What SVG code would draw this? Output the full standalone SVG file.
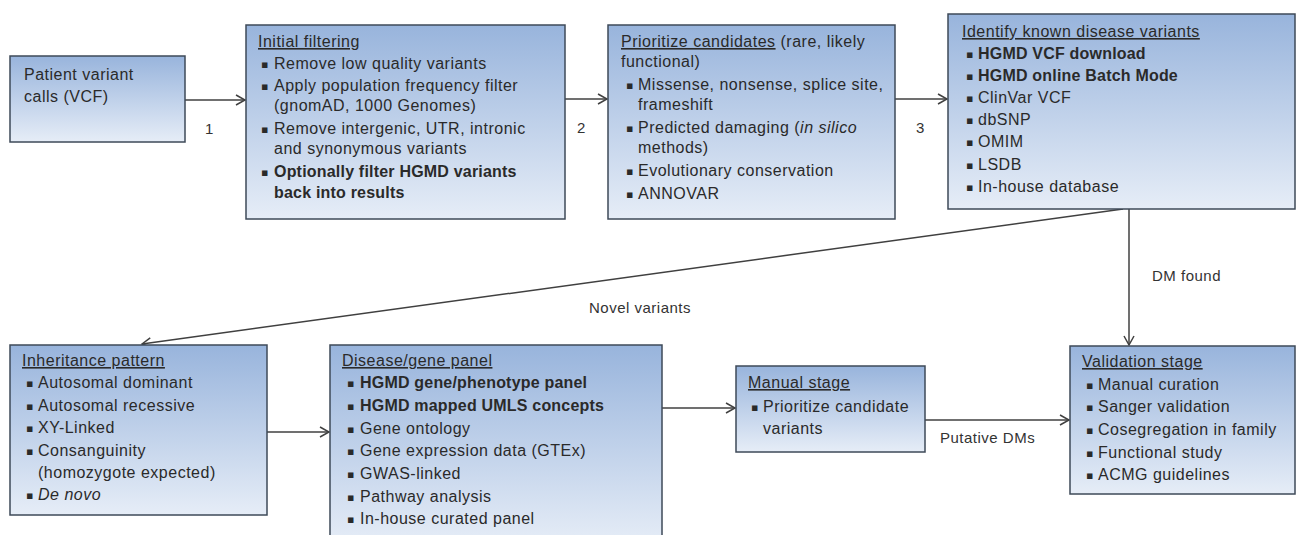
<svg xmlns="http://www.w3.org/2000/svg" width="1299" height="535" viewBox="0 0 1299 535">
<defs>
<linearGradient id="g" x1="0" y1="0" x2="0" y2="1">
<stop offset="0" stop-color="#98b4dc"/>
<stop offset="1" stop-color="#e6edf7"/>
</linearGradient>
<marker id="ah" markerWidth="12" markerHeight="12" refX="10" refY="6" orient="auto" markerUnits="userSpaceOnUse">
<path d="M1,1 L10,6 L1,11" fill="none" stroke="#404040" stroke-width="1.5"/>
</marker>
<style>
.box{fill:url(#g);stroke:#3e4a58;stroke-width:1.5}
.t{font-family:"Liberation Sans",Arial,sans-serif;font-size:16px;letter-spacing:0.5px;fill:#2a2a2a}
.bu{font-family:"DejaVu Sans","Liberation Sans",sans-serif;font-size:11px;fill:#2a2a2a}
.b{font-weight:bold;letter-spacing:0.2px}
.u{text-decoration:underline}
.i{font-style:italic}
.lbl{font-family:"Liberation Sans",Arial,sans-serif;font-size:15px;letter-spacing:0.5px;fill:#333}
.c{fill:none;stroke:#404040;stroke-width:1.5;marker-end:url(#ah)}
</style>
</defs>
<g id="connectors">
<line class="c" x1="185" y1="100" x2="245" y2="100"/>
<line class="c" x1="565" y1="99" x2="607" y2="99"/>
<line class="c" x1="895" y1="99" x2="947" y2="99"/>
<line class="c" x1="1123" y1="209" x2="142" y2="344"/>
<line class="c" x1="1129" y1="209" x2="1129" y2="345"/>
<line class="c" x1="267" y1="432" x2="329" y2="432"/>
<line class="c" x1="662" y1="408" x2="735" y2="408"/>
<line class="c" x1="925" y1="420" x2="1069" y2="420"/>
<text class="lbl" x="205" y="134">1</text>
<text class="lbl" x="577" y="133">2</text>
<text class="lbl" x="916" y="133">3</text>
<text class="lbl" x="589" y="313">Novel variants</text>
<text class="lbl" x="1152" y="281">DM found</text>
<text class="lbl" x="940" y="443">Putative DMs</text>
</g>
<g id="patient">
<rect class="box" x="10" y="56" width="175" height="86"/>
<text class="t" x="24" y="80">Patient variant</text>
<text class="t" x="24" y="102">calls (VCF)</text>
</g>
<g id="initial">
<rect class="box" x="246" y="25" width="319" height="194"/>
<text class="t u" x="258" y="47">Initial filtering</text>
<text class="bu" x="261" y="68">▪</text><text class="t" x="274" y="69">Remove low quality variants</text>
<text class="bu" x="261" y="90">▪</text><text class="t" x="274" y="91">Apply population frequency filter</text>
<text class="t" x="274" y="111">(gnomAD, 1000 Genomes)</text>
<text class="bu" x="261" y="133">▪</text><text class="t" x="274" y="134">Remove intergenic, UTR, intronic</text>
<text class="t" x="274" y="154">and synonymous variants</text>
<text class="bu" x="261" y="176">▪</text><text class="t b" x="274" y="177">Optionally filter HGMD variants</text>
<text class="t b" x="274" y="198">back into results</text>
</g>
<g id="prioritize">
<rect class="box" x="608" y="25" width="287" height="194"/>
<text class="t" x="621" y="47"><tspan class="u">Prioritize candidates</tspan> (rare, likely</text>
<text class="t" x="621" y="67">functional)</text>
<text class="bu" x="626" y="89">▪</text><text class="t" x="638" y="90">Missense, nonsense, splice site,</text>
<text class="t" x="638" y="110">frameshift</text>
<text class="bu" x="626" y="132">▪</text><text class="t" x="638" y="133">Predicted damaging (<tspan class="i">in silico</tspan></text>
<text class="t" x="638" y="153">methods)</text>
<text class="bu" x="626" y="175">▪</text><text class="t" x="638" y="176">Evolutionary conservation</text>
<text class="bu" x="626" y="198">▪</text><text class="t" x="638" y="199">ANNOVAR</text>
</g>
<g id="identify">
<rect class="box" x="948" y="14" width="347" height="195"/>
<text class="t u" x="962" y="37">Identify known disease variants</text>
<text class="bu" x="966" y="58">▪</text><text class="t b" x="978" y="59">HGMD VCF download</text>
<text class="bu" x="966" y="80">▪</text><text class="t b" x="978" y="81">HGMD online Batch Mode</text>
<text class="bu" x="966" y="102">▪</text><text class="t" x="978" y="103">ClinVar VCF</text>
<text class="bu" x="966" y="124">▪</text><text class="t" x="978" y="125">dbSNP</text>
<text class="bu" x="966" y="146">▪</text><text class="t" x="978" y="147">OMIM</text>
<text class="bu" x="966" y="169">▪</text><text class="t" x="978" y="170">LSDB</text>
<text class="bu" x="966" y="191">▪</text><text class="t" x="978" y="192">In-house database</text>
</g>
<g id="inheritance">
<rect class="box" x="10" y="345" width="257" height="170"/>
<text class="t u" x="22" y="366">Inheritance pattern</text>
<text class="bu" x="26" y="387">▪</text><text class="t" x="38" y="388">Autosomal dominant</text>
<text class="bu" x="26" y="410">▪</text><text class="t" x="38" y="411">Autosomal recessive</text>
<text class="bu" x="26" y="432">▪</text><text class="t" x="38" y="433">XY-Linked</text>
<text class="bu" x="26" y="455">▪</text><text class="t" x="38" y="456">Consanguinity</text>
<text class="t" x="38" y="478">(homozygote expected)</text>
<text class="bu" x="26" y="499">▪</text><text class="t i" x="38" y="500">De novo</text>
</g>
<g id="disease">
<rect class="box" x="330" y="345" width="332" height="200"/>
<text class="t u" x="342" y="366">Disease/gene panel</text>
<text class="bu" x="347" y="387">▪</text><text class="t b" x="360" y="388">HGMD gene/phenotype panel</text>
<text class="bu" x="347" y="410">▪</text><text class="t b" x="360" y="411">HGMD mapped UMLS concepts</text>
<text class="bu" x="347" y="433">▪</text><text class="t" x="360" y="434">Gene ontology</text>
<text class="bu" x="347" y="455">▪</text><text class="t" x="360" y="456">Gene expression data (GTEx)</text>
<text class="bu" x="347" y="478">▪</text><text class="t" x="360" y="479">GWAS-linked</text>
<text class="bu" x="347" y="501">▪</text><text class="t" x="360" y="502">Pathway analysis</text>
<text class="bu" x="347" y="523">▪</text><text class="t" x="360" y="524">In-house curated panel</text>
</g>
<g id="manual">
<rect class="box" x="736" y="366" width="189" height="86"/>
<text class="t u" x="748" y="388">Manual stage</text>
<text class="bu" x="751" y="411">▪</text><text class="t" x="763" y="412">Prioritize candidate</text>
<text class="t" x="763" y="434">variants</text>
</g>
<g id="validation">
<rect class="box" x="1070" y="346" width="225" height="148"/>
<text class="t u" x="1082" y="367">Validation stage</text>
<text class="bu" x="1086" y="389">▪</text><text class="t" x="1098" y="390">Manual curation</text>
<text class="bu" x="1086" y="411">▪</text><text class="t" x="1098" y="412">Sanger validation</text>
<text class="bu" x="1086" y="434">▪</text><text class="t" x="1098" y="435">Cosegregation in family</text>
<text class="bu" x="1086" y="457">▪</text><text class="t" x="1098" y="458">Functional study</text>
<text class="bu" x="1086" y="479">▪</text><text class="t" x="1098" y="480">ACMG guidelines</text>
</g>
</svg>
